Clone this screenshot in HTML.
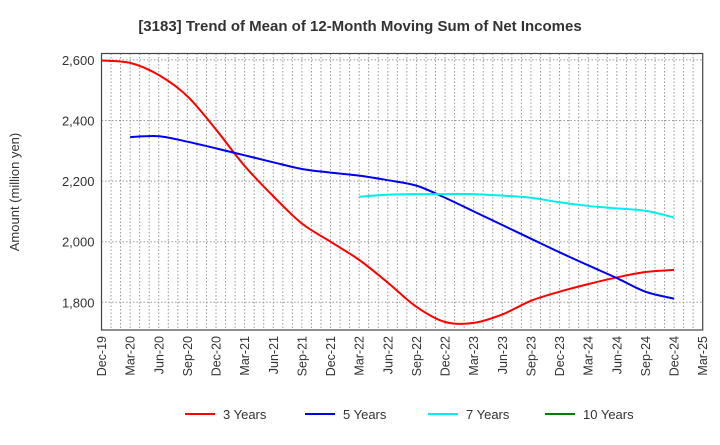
<!DOCTYPE html>
<html><head><meta charset="utf-8"><style>body{margin:0;background:#fff}svg{font-family:"Liberation Sans",Arial,sans-serif}</style></head>
<body>
<svg id="c" width="720" height="440" xmlns="http://www.w3.org/2000/svg">
<text x="360" y="31" text-anchor="middle" font-size="15" font-weight="bold" fill="#333">[3183]  Trend of Mean of 12-Month Moving Sum of Net Incomes</text>
<text transform="translate(19,192) rotate(-90)" text-anchor="middle" font-size="13" fill="#333">Amount (million yen)</text>
<g id="grid"></g><g id="series"></g><g id="axes"></g><g id="legend"></g>
</svg>
<script>
const xLabels=["Dec-19","Mar-20","Jun-20","Sep-20","Dec-20","Mar-21","Jun-21","Sep-21","Dec-21","Mar-22","Jun-22","Sep-22","Dec-22","Mar-23","Jun-23","Sep-23","Dec-23","Mar-24","Jun-24","Sep-24","Dec-24","Mar-25"];
const yTicks=[1800,2000,2200,2400,2600];
const seriesNames=["3 Years","5 Years","7 Years","10 Years"];
const seriesColors=["#ff0000","#0000ee","#00eeee","#008000"];
const y3=[2598,2590,2550,2480,2370,2250,2150,2060,2000,1940,1865,1785,1735,1732,1760,1805,1835,1860,1882,1900,1907];
const y5=[null,2345,2348,2330,2308,2285,2262,2240,2228,2218,2203,2185,2145,2100,2055,2010,1965,1922,1880,1835,1812];
const y7=[null,null,null,null,null,null,null,null,null,2148,2155,2157,2157,2157,2152,2145,2130,2118,2110,2102,2080];
const y10=[];
const L=101.5,R=702.7,T=53.5,B=330,yMin=1708.6,yMax=2621;
const NS="http://www.w3.org/2000/svg";
const px=m=>L+(R-L)*m/63;
const qx=i=>px(i*3);
const py=v=>B-(v-yMin)/(yMax-yMin)*(B-T);
function mk(t,a,p){const e=document.createElementNS(NS,t);for(const k in a)e.setAttribute(k,a[k]);p.appendChild(e);return e;}
const grid=document.getElementById('grid'),axes=document.getElementById('axes'),ser=document.getElementById('series'),leg=document.getElementById('legend');
for(let m=1;m<63;m++){const l=mk('line',{x1:px(m),x2:px(m),y1:T,y2:B,stroke:'#999','stroke-dasharray':'1.5,2','stroke-width':1},grid);

}
yTicks.forEach(v=>{const l=mk('line',{x1:L,x2:R,y1:py(v),y2:py(v),stroke:'#999','stroke-dasharray':'1.5,2','stroke-width':1},grid);


const t=mk('text',{x:L-7,y:py(v)+5,'text-anchor':'end','font-size':13,fill:'#333'},axes);t.textContent=v.toLocaleString('en-US');

});
xLabels.forEach((s,i)=>{const x=qx(i);const t=mk('text',{transform:`translate(${x+4.5},${B+6}) rotate(-90)`,'text-anchor':'end','font-size':12.5,fill:'#333'},axes);t.textContent=s;

});
const fr=mk('rect',{x:L,y:T,width:R-L,height:B-T,fill:'none',stroke:'#444','stroke-width':1.2},axes);


function path(pts){if(pts.length<2)return '';let d=`M${pts[0][0]},${pts[0][1]}`;for(let i=0;i<pts.length-1;i++){const p0=pts[i-1]||pts[i],p1=pts[i],p2=pts[i+1],p3=pts[i+2]||p2;
d+=` C${p1[0]+(p2[0]-p0[0])/6},${p1[1]+(p2[1]-p0[1])/6} ${p2[0]-(p3[0]-p1[0])/6},${p2[1]-(p3[1]-p1[1])/6} ${p2[0]},${p2[1]}`;}return d;}
[y3,y5,y7,y10].forEach((arr,k)=>{const pts=[];arr.forEach((v,i)=>{if(v!=null)pts.push([qx(i),py(v)]);});
if(pts.length<2)return;const p=mk('path',{d:path(pts),fill:'none',stroke:seriesColors[k],'stroke-width':2},ser);

});
const lx=[185,305,428,545];
seriesNames.forEach((n,k)=>{const g=mk('g',{},leg);


mk('line',{x1:lx[k],x2:lx[k]+30,y1:414,y2:414,stroke:seriesColors[k],'stroke-width':2},g);
const t=mk('text',{x:lx[k]+38,y:419,'font-size':13,fill:'#333'},g);t.textContent=n;});
</script>
</body></html>
